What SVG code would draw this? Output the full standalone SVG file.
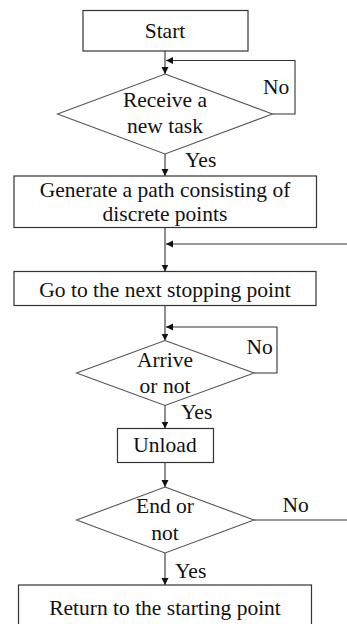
<svg xmlns="http://www.w3.org/2000/svg" width="347" height="624" viewBox="0 0 347 624">
  <style>
    .box { fill: #ffffff; stroke: #333333; stroke-width: 1.2; }
    .dia { fill: #ffffff; stroke: #555555; stroke-width: 1.1; }
    .wire { fill: none; stroke: #333333; stroke-width: 1.1; }
    .t { font-family: "Liberation Serif", "Times New Roman", serif; font-size: 21.5px; fill: #111111; }
    .c { text-anchor: middle; }
  </style>
  <defs>
    <marker id="arrow" markerUnits="userSpaceOnUse" markerWidth="8" markerHeight="8" refX="7" refY="3.5" orient="auto">
      <path d="M0,0 L7,3.5 L0,7 z" fill="#111111"/>
    </marker>
  </defs>
  <rect width="347" height="624" fill="#ffffff"/>

  <!-- connectors -->
  <g id="connectors">
    <line class="wire" x1="165" y1="51" x2="165" y2="74" marker-end="url(#arrow)"/>
    <polyline class="wire" points="272.5,114 295,114 295,60.5 166,60.5" marker-end="url(#arrow)"/>
    <line class="wire" x1="165" y1="154" x2="165" y2="176" marker-end="url(#arrow)"/>
    <line class="wire" x1="165" y1="227.5" x2="165" y2="271.5" marker-end="url(#arrow)"/>
    <line class="wire" x1="347" y1="244" x2="166" y2="244" marker-end="url(#arrow)"/>
    <line class="wire" x1="165" y1="305.5" x2="165" y2="340.5" marker-end="url(#arrow)"/>
    <polyline class="wire" points="254,373 277,373 277,327 166,327" marker-end="url(#arrow)"/>
    <line class="wire" x1="165" y1="405.5" x2="165" y2="428.5" marker-end="url(#arrow)"/>
    <line class="wire" x1="165" y1="462.5" x2="165" y2="487" marker-end="url(#arrow)"/>
    <line class="wire" x1="254" y1="520" x2="347" y2="520"/>
    <line class="wire" x1="165" y1="553" x2="165" y2="585" marker-end="url(#arrow)"/>
    <text class="t" x="263" y="94">No</text>
    <text class="t" x="185" y="167">Yes</text>
    <text class="t" x="246.5" y="354">No</text>
    <text class="t" x="181" y="419">Yes</text>
    <text class="t" x="282.5" y="512">No</text>
    <text class="t" x="175" y="578">Yes</text>
  </g>

  <g id="start">
    <rect class="box" x="83" y="10.5" width="165" height="40.5"/>
    <text class="t c" x="165" y="38">Start</text>
  </g>

  <g id="receive-task">
    <polygon class="dia" points="165,74 272.5,114 165,154 57.5,114"/>
    <text class="t c" x="165" y="107">Receive a</text>
    <text class="t c" x="165" y="133">new task</text>
  </g>

  <g id="generate-path">
    <rect class="box" x="14" y="176" width="302.5" height="51.5"/>
    <text class="t c" x="165" y="197">Generate a path consisting of</text>
    <text class="t c" x="165" y="221">discrete points</text>
  </g>

  <g id="next-point">
    <rect class="box" x="14" y="271.5" width="302" height="34"/>
    <text class="t c" x="165" y="297">Go to the next stopping point</text>
  </g>

  <g id="arrive">
    <polygon class="dia" points="165,340.5 254,373 165,405.5 76.5,373"/>
    <text class="t c" x="165" y="367">Arrive</text>
    <text class="t c" x="165" y="393">or not</text>
  </g>

  <g id="unload">
    <rect class="box" x="117.5" y="428.5" width="96" height="34"/>
    <text class="t c" x="165" y="452">Unload</text>
  </g>

  <g id="end-check">
    <polygon class="dia" points="165,487 254,520 165,553 76.5,520"/>
    <text class="t c" x="165" y="513">End or</text>
    <text class="t c" x="165" y="540">not</text>
  </g>

  <g id="return-start">
    <rect class="box" x="18.5" y="585" width="293" height="50"/>
    <text class="t c" x="165" y="615">Return to the starting point</text>
  </g>
</svg>
